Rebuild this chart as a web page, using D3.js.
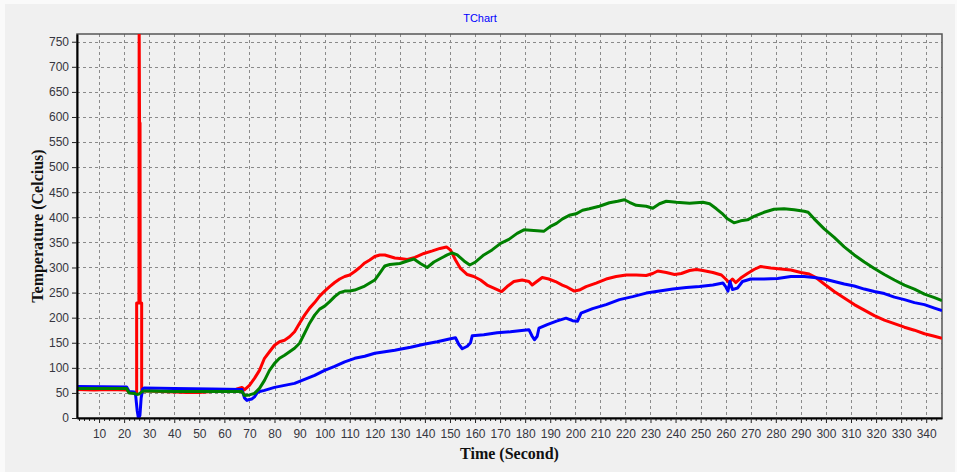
<!DOCTYPE html>
<html>
<head>
<meta charset="utf-8">
<script src="https://cdn.jsdelivr.net/npm/d3@7"></script>
<style>
  html, body { margin: 0; padding: 0; background: #fafafa; }
  svg { display: block; }
  .tick text { font-family: "Liberation Sans", Arial, sans-serif; font-size: 12px; fill: #363640; }
</style>
</head>
<body>
<svg id="chart" width="957" height="472"></svg>
<script>
// Tick labels
const xTicks = [10, 20, 30, 40, 50, 60, 70, 80, 90, 100, 110, 120, 130, 140, 150, 160, 170, 180, 190, 200,
  210, 220, 230, 240, 250, 260, 270, 280, 290, 300, 310, 320, 330, 340];
const yTicks = [0, 50, 100, 150, 200, 250, 300, 350, 400, 450, 500, 550, 600, 650, 700, 750];

// Red channel: time (s) and temperature (°C)
const redTime = [1, 8, 14, 21, 22, 24.8, 25.0, 25.0, 25.9, 26.0, 26.15, 26.35, 26.4, 27.0, 27.0, 27.4, 30, 40, 45, 50, 55, 64, 65, 67, 68, 70, 72, 74, 76, 78,
  80, 82, 84, 86, 88, 90, 92, 94, 96, 98, 100, 102, 104, 106, 108, 110, 112, 114, 116, 118, 120, 122, 124, 126, 128, 130, 133, 136,
  139.6, 143, 146, 148.6, 150.2, 152.2, 154.2, 156.9, 159.5, 162.2, 164.8, 167.5, 170.6, 172.8, 175.5, 178.8, 181.5, 182.8, 184.1,
  186.8, 189.4, 192.1, 194.8, 196.3, 199.6, 201.6, 204.3, 208.3, 212.3, 216.3, 220.3, 224.3, 228.3, 230.9, 232.9, 236.3, 239.6,
  242.3, 245.6, 248.3, 250.9, 254.9, 258.3, 260, 261.3, 262.7, 264, 266, 268.7, 271.3, 274, 278, 282, 286, 290, 293.3, 296, 299.3,
  303.3, 307.3, 311.3, 315.3, 319.3, 323.3, 327.3, 331.3, 335.3, 339.3, 343.3, 346.3];
const redTemp = [57, 56, 57, 56, 51, 50, 50, 229, 229, 790, 588, 588, 229, 229, 55, 54, 54, 52, 51, 51, 53, 54, 58, 61, 56, 65, 79, 95, 119, 132,
  145, 152, 155, 162, 172, 189, 205, 219, 230, 243, 253, 262, 270, 277, 282, 285, 292, 300, 309, 315, 322, 325, 325, 322, 319, 318, 316, 320,
  328, 333, 338, 341, 335, 315, 298, 286, 282, 275, 265, 259, 252, 262, 272, 275, 272, 265, 270,
  280, 277, 272, 265, 262, 253, 255, 262, 269, 277, 282, 285, 285, 284, 288, 293, 290, 286,
  288, 294, 296, 294, 290, 285, 277, 270, 277, 270, 279, 288, 296, 302, 299, 297, 295, 290, 287, 280, 267,
  252, 239, 226, 215, 204, 195, 188, 181, 175, 168, 163, 159];

// Green channel
const greenTime = [1, 21, 22, 24, 25, 26, 27, 28, 40, 67, 68, 70, 72, 74, 76, 78, 80, 82, 84, 86, 88, 90, 92, 94, 96, 98, 100,
  102, 104, 106, 108, 110, 112, 114, 116, 118, 120, 122, 124, 126, 128, 130, 133, 135.6, 138.2, 140.9, 143.6, 146.2, 148.9, 150.9,
  152.9, 155.6, 157.9, 160.2, 163.5, 166.8, 170.2, 173.5, 176.8, 179.5, 182.1, 184.8, 187.4, 190.1, 192.5, 194.9, 197.6, 200.3,
  202.9, 205.6, 209.6, 213.6, 216.9, 219.6, 221.6, 224.3, 228.3, 230.9, 233.6, 236.3, 240.3, 245.6, 250.9, 253.6, 256.3, 258.5,
  260.7, 263.3, 266, 268.7, 271.3, 275.3, 279.3, 283.3, 287.3, 291.3, 292.9, 295.3, 299.3, 303.3, 307.3, 311.3, 315.3, 319.3,
  323.3, 327.3, 331.3, 335.3, 339.3, 343.3, 346.3];
const greenTemp = [59, 59, 50, 49, 47, 48, 52, 54, 53, 53, 45, 46, 49, 59, 75, 95, 109, 119, 125, 132, 139, 149, 169, 189, 205, 217, 223,
  232, 242, 250, 253, 253, 255, 259, 263, 269, 275, 289, 303, 306, 307, 308, 313, 317, 308, 300, 311, 318, 325, 329,
  325, 313, 305, 311, 325, 335, 348, 356, 368, 375, 374, 373, 372, 382, 388, 397, 404, 407,
  414, 417, 422, 429, 432, 435, 430, 424, 422, 418, 427, 432, 430, 428, 430, 427, 417, 408,
  397, 389, 393, 395, 402, 410, 416, 417, 415, 412, 410, 397, 377, 360, 341, 325, 311, 298,
  286, 275, 265, 257, 247, 240, 234];

// Blue channel
const blueTime = [1, 21, 22, 24, 24.6, 25.2, 25.7, 26.3, 26.8, 27.4, 28, 40, 55, 67, 68, 69, 70, 71, 72, 73.3, 76, 80, 84, 88,
  92, 96, 100, 104, 108, 112, 116, 120, 124, 128, 130, 134.3, 139.6, 144.9, 150.2, 152.2, 153.5, 154.9, 156.9, 158.2, 158.9,
  163.5, 168.8, 174.1, 179.5, 181.5, 182.8, 183.7, 184.8, 185.5, 188.8, 192.5, 196.3, 198.9, 200.9, 202.3, 206.9, 212.3,
  217.6, 222.9, 228.3, 233.6, 238.9, 244.3, 249.6, 254.9, 258.9, 260, 260.9, 261.7, 262.7, 264.7, 266.7, 270, 275.3, 280.7,
  286, 291.3, 295.3, 299.3, 303.3, 307.3, 311.3, 315.3, 319.3, 323.3, 327.3, 331.3, 335.3, 339.3, 343.3, 346.3];
const blueTemp = [63, 62, 53, 52, 45, 15, 0, 5, 40, 58, 60, 59, 58, 57, 40, 35, 37, 38, 42, 52, 55, 61, 65, 69,
  77, 85, 95, 103, 112, 119, 123, 129, 132, 135, 137, 141, 147, 152, 158, 160, 147, 138, 143, 150, 164,
  166, 170, 172, 175, 176, 163, 156, 163, 179, 186, 193, 199, 194, 193, 209, 218, 226,
  236, 242, 249, 253, 257, 260, 262, 265, 269, 262, 253, 272, 256, 259, 272, 277, 277, 278,
  282, 282, 280, 277, 272, 267, 263, 257, 252, 248, 241, 236, 230, 226, 219, 214];

const series = [
  { color: "#ff0000", time: redTime, temp: redTemp },
  { color: "#0000ff", time: blueTime, temp: blueTemp },
  { color: "#008000", time: greenTime, temp: greenTemp }
];

const W = 957, H = 472;
const plot = { left: 77, right: 942, top: 34, bottom: 418 };

const svg = d3.select("#chart");

// Panel background
svg.append("rect").attr("x", 5).attr("y", 4).attr("width", W - 7).attr("height", H - 4).attr("fill", "#f0f0f0");

const x = d3.scaleLinear().domain([1.2, 346.3]).range([plot.left, plot.right]);
const y = d3.scaleLinear().domain([0, 765.4]).range([plot.bottom, plot.top]);

// Dashed grid
const grid = svg.append("g").attr("stroke", "#8a8a8a").attr("stroke-width", 1).attr("stroke-dasharray", "3,3");
grid.selectAll("line.v").data(xTicks).join("line")
  .attr("x1", d => Math.round(x(d)) + 0.5).attr("x2", d => Math.round(x(d)) + 0.5)
  .attr("y1", plot.top).attr("y2", plot.bottom);
grid.selectAll("line.h").data(yTicks.filter(d => d > 0)).join("line")
  .attr("y1", d => Math.round(y(d)) + 0.5).attr("y2", d => Math.round(y(d)) + 0.5)
  .attr("x1", plot.left).attr("x2", plot.right);

// Frame (top/right)
svg.append("rect")
  .attr("x", plot.left).attr("y", plot.top)
  .attr("width", plot.right - plot.left).attr("height", plot.bottom - plot.top)
  .attr("fill", "none").attr("stroke", "#555").attr("stroke-width", 1.5);

// Series lines, clipped to the plot
svg.append("clipPath").attr("id", "plotClip").append("rect")
  .attr("x", plot.left).attr("y", plot.top)
  .attr("width", plot.right - plot.left).attr("height", plot.bottom - plot.top);

const line = d3.line().x(d => x(d[0])).y(d => y(d[1]));
const lines = svg.append("g").attr("clip-path", "url(#plotClip)");
series.forEach(s => {
  const pts = s.time.map((t, i) => [t, s.temp[i]]);
  lines.append("path").datum(pts)
    .attr("d", line)
    .attr("fill", "none")
    .attr("stroke", s.color)
    .attr("stroke-width", 3)
    .attr("stroke-linejoin", "round");
});

// Minor ticks on the time axis
const minorTicks = d3.range(2, 346, 2).filter(d => d % 10 !== 0);
svg.append("g")
  .attr("transform", `translate(0,${plot.bottom})`)
  .call(d3.axisBottom(x).tickValues(minorTicks).tickSize(3).tickFormat(""))
  .call(g => g.select(".domain").remove())
  .call(g => g.selectAll("line").attr("stroke", "#222"));

// X axis
svg.append("g")
  .attr("transform", `translate(0,${plot.bottom})`)
  .call(d3.axisBottom(x).tickValues(xTicks).tickSize(5).tickSizeOuter(0).tickPadding(6))
  .call(g => g.select(".domain").attr("stroke", "#000").attr("stroke-width", 2))
  .call(g => g.selectAll(".tick line").attr("stroke", "#222"));

// Y axis
svg.append("g")
  .attr("transform", `translate(${plot.left},0)`)
  .call(d3.axisLeft(y).tickValues(yTicks).tickSize(5).tickSizeOuter(0).tickPadding(3))
  .call(g => g.select(".domain").attr("stroke", "#000").attr("stroke-width", 2))
  .call(g => g.selectAll(".tick line").attr("stroke", "#222"));

// Title
svg.append("text")
  .attr("x", 480).attr("y", 22)
  .attr("text-anchor", "middle")
  .attr("font-family", "Liberation Sans, Arial, sans-serif")
  .attr("font-size", 11)
  .attr("fill", "#0000ff")
  .text("TChart");

// Axis titles
svg.append("text")
  .attr("x", (plot.left + plot.right) / 2).attr("y", 459)
  .attr("text-anchor", "middle")
  .attr("font-family", "Liberation Serif, Times New Roman, serif")
  .attr("font-weight", "bold")
  .attr("font-size", 16)
  .attr("fill", "#111")
  .text("Time (Second)");

svg.append("text")
  .attr("transform", `translate(43,${(plot.top + plot.bottom) / 2}) rotate(-90)`)
  .attr("text-anchor", "middle")
  .attr("font-family", "Liberation Serif, Times New Roman, serif")
  .attr("font-weight", "bold")
  .attr("font-size", 16)
  .attr("fill", "#111")
  .text("Temperature (Celcius)");
</script>
</body>
</html>
